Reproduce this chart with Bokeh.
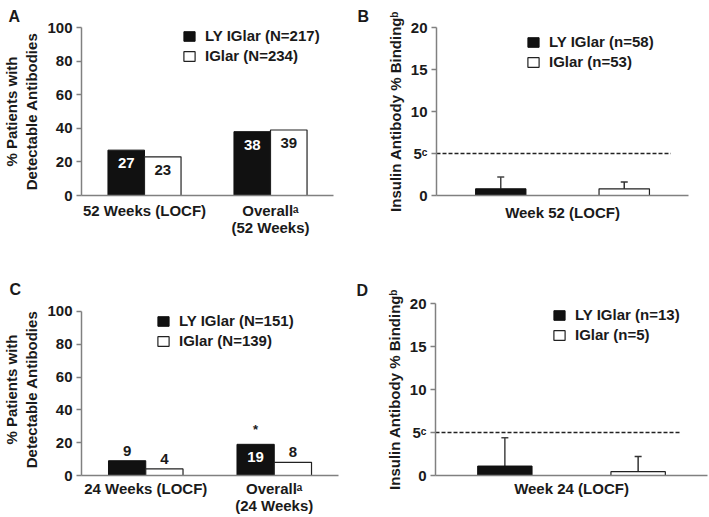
from bokeh.plotting import figure
from bokeh.models import (FactorRange, Range1d, ColumnDataSource, Legend, LegendItem,
                          Whisker, TeeHead, FixedTicker)
from bokeh.transform import dodge
from bokeh.layouts import column, row
from bokeh.embed import file_html
from bokeh.resources import INLINE
from bokeh.core.properties import value

# ---------------- data ----------------
# Panel A: % patients with detectable antibodies (52 weeks)
a_categories = ["52 Weeks (LOCF)", "Overallᵃ\n(52 Weeks)"]
a_ly = [27, 38]
a_iglar = [23, 39]
a_sig = ["", ""]
a_series = ["LY IGlar (N=217)", "IGlar (N=234)"]

# Panel B: insulin antibody % binding (week 52)
b_categories = ["Week 52 (LOCF)"]
b_ly = [0.8]
b_ly_upper = [2.2]
b_iglar = [0.8]
b_iglar_lower = [0.5]
b_iglar_upper = [1.6]
b_series = ["LY IGlar (n=58)", "IGlar (n=53)"]

# Panel C: % patients with detectable antibodies (24 weeks)
c_categories = ["24 Weeks (LOCF)", "Overallᵃ\n(24 Weeks)"]
c_ly = [9, 19]
c_iglar = [4, 8]
c_sig = ["", "*"]
c_series = ["LY IGlar (N=151)", "IGlar (N=139)"]

# Panel D: insulin antibody % binding (week 24)
d_categories = ["Week 24 (LOCF)"]
d_ly = [1.1]
d_ly_upper = [4.4]
d_iglar = [0.45]
d_iglar_lower = [0.3]
d_iglar_upper = [2.2]
d_series = ["LY IGlar (n=13)", "IGlar (n=5)"]

binding_threshold = 5
pct_max = 100
binding_max = 20
pct_ticks = [0, 20, 40, 60, 80, 100]
binding_ticks = [0, 5, 10, 15, 20]

# ---------------- style ----------------
FONT = "Liberation Sans"
TXT = "#1a1a1a"
AXC = "#808080"


def base_fig(letter, cats, ymax, view_top, ticks, w, h, borders, xlabel_standoff,
             letter_off, letter_std):
    left, right, top, bottom = borders
    p = figure(width=w, height=h, x_range=FactorRange(factors=cats),
               y_range=Range1d(0, view_top), output_backend="svg",
               toolbar_location=None, tools="",
               min_border_left=left, min_border_right=right,
               min_border_top=top, min_border_bottom=bottom)
    p.outline_line_color = None
    p.grid.visible = False
    p.background_fill_color = "white"
    p.border_fill_color = "white"
    # panel letter
    p.title.text = letter
    p.title.align = "left"
    p.title.offset = letter_off
    p.title.standoff = letter_std
    p.title.text_font = FONT
    p.title.text_font_style = "bold"
    p.title.text_font_size = "16px"
    p.title.text_color = TXT
    p.title.text_line_height = 1.0
    p.yaxis.ticker = FixedTicker(ticks=ticks)
    p.yaxis.bounds = (0, ymax)
    for ax in (p.xaxis[0], p.yaxis[0]):
        ax.axis_line_color = AXC
        ax.axis_line_width = 1.5
        ax.major_tick_line_color = AXC
        ax.major_tick_line_width = 1.5
        ax.minor_tick_line_color = None
        ax.major_label_text_font = FONT
        ax.major_label_text_font_style = "bold"
        ax.major_label_text_font_size = "15px"
        ax.major_label_text_color = TXT
        ax.axis_label_text_font = FONT
        ax.axis_label_text_font_style = "bold"
        ax.axis_label_text_font_size = "15px"
        ax.axis_label_text_color = TXT
    p.xaxis.major_label_text_line_height = 1.05
    p.xaxis.major_tick_out = 0
    p.xaxis.major_tick_in = 0
    p.xaxis.major_label_standoff = xlabel_standoff
    p.yaxis.major_tick_out = 5
    p.yaxis.major_tick_in = 0
    p.yaxis.major_label_standoff = 4
    p.yaxis.axis_label_standoff = 4
    return p


def add_legend(p, rends, labels, loc):
    leg = Legend(items=[LegendItem(label=lab, renderers=[r]) for lab, r in zip(labels, rends)],
                 location=loc, orientation="vertical",
                 label_text_font=FONT, label_text_font_style="bold",
                 label_text_font_size="15px", label_text_color=TXT,
                 glyph_width=14, glyph_height=12, label_height=15, label_standoff=9,
                 spacing=3, padding=0, margin=0,
                 border_line_color=None, background_fill_alpha=0)
    p.add_layout(leg)


def pct_panel(letter, cats, ly, ig, sig, series, view_top, w, h, borders, xstd, legloc,
              loff, lstd):
    p = base_fig(letter, cats, pct_max, view_top, pct_ticks, w, h, borders, xstd, loff, lstd)
    p.yaxis.axis_label = "% Patients with\nDetectable Antibodies"
    src = ColumnDataSource(dict(cat=cats, ly=ly, ig=ig))
    bw, off = 0.29, 0.145
    r1 = p.vbar(x=dodge("cat", -off, range=p.x_range), top="ly", width=bw, source=src,
                fill_color="#111111", line_color="#111111", line_width=1)
    r2 = p.vbar(x=dodge("cat", off, range=p.x_range), top="ig", width=bw, source=src,
                fill_color="white", line_color="#222222", line_width=1.2)
    # value labels: inside the bar when it is tall enough, otherwise above it
    for vals, o, fillc in ((ly, -off, "white"), (ig, off, TXT)):
        inside = [v >= 15 for v in vals]
        lsrc = ColumnDataSource(dict(
            cat=cats, v=vals, t=[str(v) for v in vals],
            yo=[13 if i else -10 for i in inside],
            c=[fillc if i else TXT for i in inside]))
        p.text(x=dodge("cat", o, range=p.x_range), y="v", text="t", y_offset="yo",
               text_color="c", source=lsrc, text_font=value(FONT), text_font_style="bold",
               text_font_size="15px", text_align="center", text_baseline="middle")
    ssrc = ColumnDataSource(dict(cat=cats, v=ly, t=sig))
    p.text(x=dodge("cat", -off, range=p.x_range), y="v", text="t", y_offset=-15,
           source=ssrc, text_font=value(FONT), text_font_style="bold",
           text_font_size="13px", text_color=TXT, text_align="center", text_baseline="middle")
    add_legend(p, [r1, r2], series, legloc)
    return p


def bind_panel(letter, cats, ly, ly_up, ig, ig_lo, ig_up, series, view_top, w, h, borders,
               xstd, legloc, loff, lstd, dash_end):
    p = base_fig(letter, cats, binding_max, view_top, binding_ticks, w, h, borders, xstd,
                 loff, lstd)
    p.yaxis.axis_label = "Insulin Antibody % Bindingᵇ"
    p.yaxis.major_label_overrides = {binding_threshold: f"{binding_threshold}ᶜ"}
    src = ColumnDataSource(dict(cat=cats, ly=ly, ly_up=ly_up, ig=ig, ig_lo=ig_lo, ig_up=ig_up))
    bw, off = 0.2, 0.245
    # dashed threshold line
    p.line(x=[0, dash_end], y=[binding_threshold] * 2, line_color="#222222",
           line_width=1.5, line_dash="4 2")
    r1 = p.vbar(x=dodge("cat", -off, range=p.x_range), top="ly", width=bw, source=src,
                fill_color="#111111", line_color="#111111", line_width=1)
    r2 = p.vbar(x=dodge("cat", off, range=p.x_range), top="ig", width=bw, source=src,
                fill_color="white", line_color="#222222", line_width=1.2)
    p.add_layout(Whisker(source=src, base=dodge("cat", -off, range=p.x_range),
                         lower="ly", upper="ly_up", dimension="height",
                         line_color="#444444", line_width=1.5,
                         upper_head=TeeHead(size=7, line_color="#444444", line_width=1.5),
                         lower_head=None))
    p.add_layout(Whisker(source=src, base=dodge("cat", off, range=p.x_range),
                         lower="ig_lo", upper="ig_up", dimension="height",
                         line_color="#333333", line_width=1.5,
                         upper_head=TeeHead(size=7, line_color="#333333", line_width=1.5),
                         lower_head=TeeHead(size=7, line_color="#333333", line_width=1.5)))
    add_legend(p, [r1, r2], series, legloc)
    return p


pA = pct_panel("A", a_categories, a_ly, a_iglar, a_sig, a_series, 100, 355, 258,
               (76, 22, 27, 63), 6, (101, 131), -73, 6)
pB = bind_panel("B", b_categories, b_ly, b_ly_upper, b_iglar, b_iglar_lower, b_iglar_upper,
                b_series, 20, 353, 258, (81, 20, 27, 63), 8, (90, 125), -79, 6, 0.93)
pC = pct_panel("C", c_categories, c_ly, c_iglar, c_sig, c_series, 104.8, 355, 259,
               (71, 17, 45, 41), 4, (75, 126), -72, 12)
pD = bind_panel("D", d_categories, d_ly, d_ly_upper, d_iglar, d_iglar_lower, d_iglar_upper,
                d_series, 20, 353, 259, (80, 1, 45, 41), 4, (117, 132), -79, 10, 0.9)

layout = column(row(pA, pB), row(pC, pD))
open("out.html", "w").write(file_html(layout, INLINE))
